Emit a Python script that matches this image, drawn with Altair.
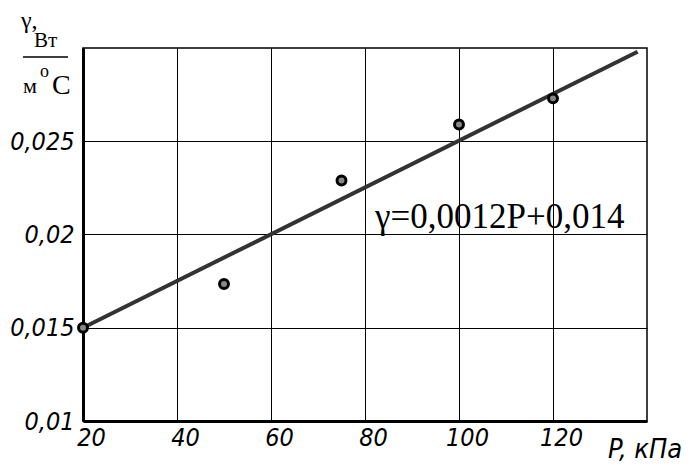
import altair as alt
import pandas as pd

# measured points
p_vals = [20, 50, 75, 100, 120]
g_vals = [0.0150, 0.01735, 0.0229, 0.0259, 0.0273]

# fitted line end points
line_p = [20, 138]
line_g = [0.0150, 0.0298]

x_ticks = [20, 40, 60, 80, 100, 120]
y_ticks = [0.01, 0.015, 0.02, 0.025]

pts = pd.DataFrame({"P": p_vals, "g": g_vals})
ln = pd.DataFrame({"P": line_p, "g": line_g})

LABEL_FONT = "Liberation Sans Narrow, DejaVu Sans Condensed, sans-serif"
SERIF = "Liberation Serif"

xscale = alt.Scale(domain=[20, 140], nice=False, zero=False)
yscale = alt.Scale(domain=[0.01, 0.03], nice=False, zero=False)

x_axis = alt.Axis(
    values=x_ticks, title=None, grid=True, gridColor="black",
    gridWidth=1, gridOpacity=1, ticks=False, domainColor="black", domainWidth=3,
    labelFont=LABEL_FONT, labelFontSize=25, labelFontStyle="italic", labelColor="black",
    labelPadding=4, labelOffset=8, labelFlush=False,
)
y_axis = alt.Axis(
    values=y_ticks, title=None, grid=True, gridColor="black",
    gridWidth=1, gridOpacity=1, ticks=False, domainColor="black", domainWidth=3,
    labelFont=LABEL_FONT, labelFontSize=25, labelFontStyle="italic", labelColor="black",
    labelPadding=9, labelFlush=False,
    labelExpr="replace(format(datum.value, '.3~f'), '.', ',')",
)

base_line = alt.Chart(ln).mark_line(color="#333333", strokeWidth=4).encode(
    x=alt.X("P:Q", scale=xscale, axis=x_axis),
    y=alt.Y("g:Q", scale=yscale, axis=y_axis),
)

points = alt.Chart(pts).mark_point(
    filled=True, fill="#888888", stroke="black", strokeWidth=3, size=80, opacity=1
).encode(x=alt.X("P:Q", scale=xscale), y=alt.Y("g:Q", scale=yscale))

def txt(s, x, y, size, font=SERIF, style="normal", align="left"):
    return alt.Chart(pd.DataFrame({"t": [s]})).mark_text(
        font=font, fontSize=size, fontStyle=style, align=align,
        baseline="alphabetic", color="black"
    ).encode(text="t:N", x=alt.value(x), y=alt.value(y))

equation = txt("γ=0,0012P+0,014", 292, 180, 35)
xtitle = txt("P, кПа", 525, 410, 27, font=LABEL_FONT, style="italic")
gamma = txt("γ,", -62, -20, 24)
bt = txt("Вт", -49, -1, 21)
m = txt("м", -60, 45, 22)
o = txt("o", -43, 29, 18)
c = txt("С", -31, 46, 28)
frac = alt.Chart(pd.DataFrame({"a": [0]})).mark_rule(color="black", strokeWidth=1.5).encode(
    x=alt.value(-60), x2=alt.value(-15), y=alt.value(9)
)

chart = alt.layer(base_line, points, equation, xtitle, gamma, bt, m, o, c, frac).properties(
    width=564, height=373,
    autosize=alt.AutoSizeParams(type="none"),
    padding={"left": 75, "top": 40, "right": 38, "bottom": 44},
).configure_view(stroke="black", strokeWidth=1.5)

chart.save("out.html", embed_options={"renderer": "svg", "actions": False})
